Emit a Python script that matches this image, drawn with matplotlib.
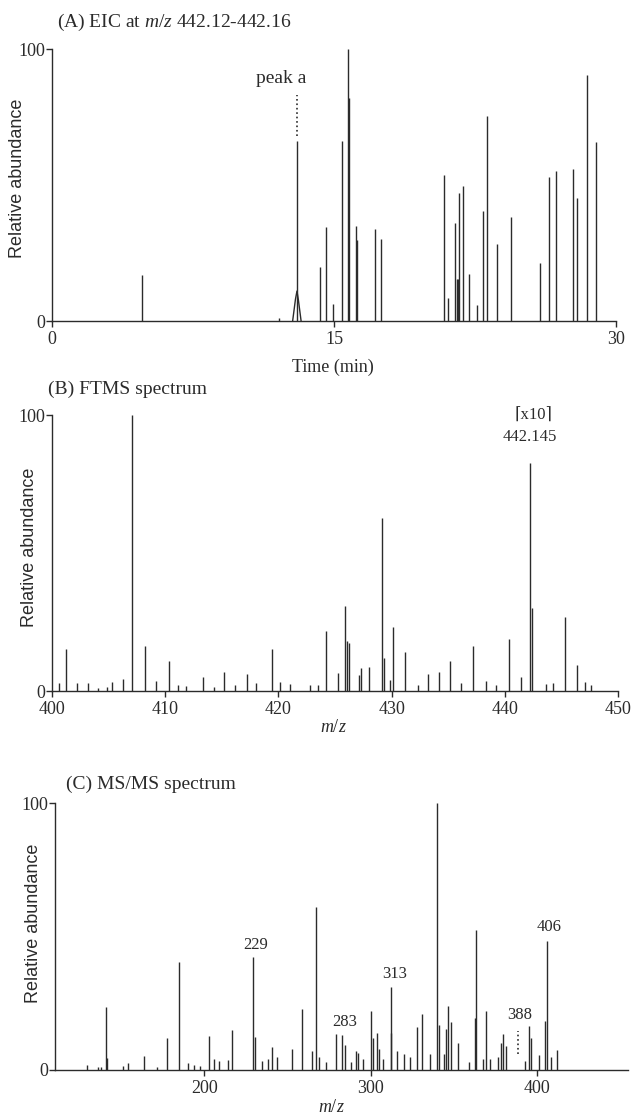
import matplotlib
matplotlib.use("Agg")
import matplotlib.pyplot as plt
import numpy as np

plt.rcParams['font.family'] = ['Liberation Serif', 'DejaVu Serif']
plt.rcParams['mathtext.fontset'] = 'custom'
plt.rcParams['mathtext.rm'] = 'Liberation Serif'
plt.rcParams['mathtext.it'] = 'Liberation Serif:italic'

INK = '#2b2b2b'

# (A) EIC peaks: retention time (min), relative abundance
eic_time = [4.81, 12.07, 13.03, 14.24, 14.56, 14.97, 15.40, 15.76, 15.82, 16.15, 16.21,
            17.18, 17.48, 20.85, 21.07, 21.45, 21.52, 21.58, 21.67, 21.84, 22.16, 22.61,
            22.94, 23.13, 23.67, 24.42, 25.94, 26.44, 26.83, 27.69, 27.94, 28.46, 28.96]
eic_abund = [16.8, 1.2, 66.3, 20.0, 34.7, 6.3, 66.3, 100.0, 82.0, 35.0, 29.6,
             34.0, 30.3, 53.6, 8.6, 36.0, 15.3, 15.3, 47.0, 49.7, 17.2, 5.8,
             40.6, 75.3, 28.3, 38.4, 21.3, 52.8, 55.2, 56.0, 45.3, 90.4, 65.8]
peak_a_base_t = [12.80, 12.95, 13.03, 13.10, 13.25]
peak_a_base_h = [0.0, 8.0, 11.0, 8.0, 0.0]

# (B) FTMS spectrum
ft_mz = [400.6, 401.25, 402.25, 403.2, 404.1, 404.9, 405.3, 406.25, 407.07, 408.2, 409.2,
         410.3, 411.1, 411.8, 413.3, 414.3, 415.2, 416.2, 417.2, 418.0, 419.4, 420.1,
         421.0, 422.8, 423.5, 424.2, 425.25, 425.9, 426.1, 426.25, 427.1, 427.3, 428.0,
         429.14, 429.3, 429.9, 430.14, 431.2, 432.3, 433.2, 434.2, 435.2, 436.1, 437.2,
         438.3, 439.2, 440.4, 441.4, 442.25, 442.4, 443.6, 444.3, 445.3, 446.4, 447.1, 447.6]
ft_abund = [2.8, 15.1, 2.8, 2.8, 1.0, 1.6, 3.4, 4.2, 100.0, 16.4, 3.7,
            11.0, 2.2, 1.8, 5.2, 1.6, 6.9, 2.2, 6.2, 3.0, 15.1, 3.4,
            2.5, 2.0, 2.2, 21.6, 6.6, 30.9, 18.1, 17.3, 5.8, 8.2, 8.8,
            62.6, 11.8, 4.0, 23.3, 14.1, 2.2, 6.2, 6.8, 10.7, 2.8, 16.3,
            3.7, 2.2, 19.0, 5.2, 82.5, 30.0, 2.5, 2.8, 26.7, 9.3, 3.4, 2.2]

# (C) MS/MS spectrum
ms_mz = [129.1, 135.9, 137.6, 140.7, 141.5, 151.0, 154.1, 163.8, 171.6, 177.5, 184.5,
         189.9, 193.5, 197.4, 202.5, 205.7, 208.8, 214.4, 216.8, 229.0, 230.5, 234.8,
         238.5, 240.9, 243.6, 252.6, 258.7, 264.5, 267.2, 269.0, 273.3, 279.1, 283.0,
         284.7, 288.4, 291.5, 292.7, 295.6, 300.5, 301.7, 304.1, 305.3, 307.5, 312.2,
         312.6, 315.8, 319.9, 323.6, 328.0, 330.9, 335.8, 339.9, 341.3, 344.2, 345.5,
         346.7, 348.7, 352.8, 359.4, 363.0, 363.4, 367.8, 369.8, 372.2, 376.6, 378.3,
         380.0, 381.5, 392.9, 395.3, 396.5, 401.3, 405.0, 406.0, 408.6, 412.3]
ms_abund = [1.9, 1.2, 1.2, 23.5, 4.4, 1.5, 2.5, 5.2, 1.0, 11.9, 40.4,
            2.7, 1.9, 1.5, 12.9, 4.0, 3.5, 3.8, 15.0, 42.4, 12.5, 3.5,
            4.0, 8.5, 5.0, 8.0, 23.0, 7.0, 60.9, 5.0, 3.0, 13.5, 13.0,
            9.5, 3.0, 7.0, 6.5, 4.0, 22.0, 12.0, 14.0, 8.0, 4.0, 14.0,
            31.0, 7.0, 6.0, 5.0, 16.0, 21.0, 6.0, 100.0, 17.0, 6.0, 15.5,
            24.0, 18.0, 10.0, 3.0, 19.5, 52.5, 4.0, 22.0, 4.0, 5.0, 10.0,
            13.5, 9.0, 3.5, 16.5, 12.0, 5.5, 18.5, 48.5, 5.0, 7.5]
ms_labels = ['229', '283', '313', '388', '406']
ms_label_mz = [229.0, 283.0, 313.0, 388.5, 406.0]
ms_label_h = [44.0, 15.0, 33.0, 17.5, 50.5]


fig = plt.figure(figsize=(6.33, 11.16), dpi=100)


def style_axes(ax, xlim, xticks, xticklabels):
    ax.set_xlim(*xlim)
    ax.set_ylim(0, 100)
    for s in ['top', 'right']:
        ax.spines[s].set_visible(False)
    for s in ['left', 'bottom']:
        ax.spines[s].set_color(INK)
        ax.spines[s].set_linewidth(1.0)
    ax.set_yticks([0, 100])
    ax.set_yticklabels(['0', '100'])
    ax.set_xticks(xticks)
    ax.set_xticklabels(xticklabels)
    ax.tick_params(direction='out', length=4, width=1.0, color=INK,
                   labelsize=13, labelcolor=INK, pad=3)
    ax.tick_params(axis='y', pad=1)


# ---- (A) EIC
axA = fig.add_axes([52 / 633, 1 - 321 / 1116, 564 / 633, 272 / 1116])
axA.vlines(eic_time, 0, eic_abund, color=INK, lw=1.0, clip_on=False)
axA.plot(peak_a_base_t, peak_a_base_h, color=INK, lw=1.0)
axA.plot([13.03, 13.03], [68, 83], color=INK, lw=1.2, ls=':')
axA.text(12.2, 86, 'peak a', ha='center', va='bottom', fontsize=14, color=INK)
style_axes(axA, (0, 30), [0, 15, 30], ['0', '15', '30'])
axA.xaxis.labelpad = 2
fig.text(57 / 633, 1 - 22 / 1116, r'(A) EIC at $m$/$z$ 442.12-442.16', ha='left', va='center',
         fontsize=14, color=INK)
fig.text(333 / 633, 1 - 367 / 1116, 'Time (min)', ha='center', va='center', fontsize=13, color=INK)
fig.text(18 / 633, 1 - 178 / 1116, 'Relative abundance', rotation=90, ha='center', va='center',
         fontsize=13, color=INK, family=['Liberation Sans', 'DejaVu Sans'])

# ---- (B) FTMS spectrum
axB = fig.add_axes([52 / 633, 1 - 691 / 1116, 566 / 633, 276 / 1116])
axB.vlines(ft_mz, 0, ft_abund, color=INK, lw=1.0, clip_on=False)
style_axes(axB, (400, 450), [400, 410, 420, 430, 440, 450],
           ['400', '410', '420', '430', '440', '450'])
axB.text(442.25, 89, '442.145', ha='center', va='bottom', fontsize=12, color=INK)
axB.text(442.5, 97, '\u2308x10\u2309', ha='center', va='bottom', fontsize=12, color=INK)
fig.text(48 / 633, 1 - 389 / 1116, '(B) FTMS spectrum', ha='left', va='center',
         fontsize=14, color=INK)
fig.text(333 / 633, 1 - 728 / 1116, r'$m$/$z$', ha='center', va='center', fontsize=13, color=INK)
fig.text(30 / 633, 1 - 547 / 1116, 'Relative abundance', rotation=90, ha='center', va='center',
         fontsize=13, color=INK, family=['Liberation Sans', 'DejaVu Sans'])

# ---- (C) MS/MS spectrum
axC = fig.add_axes([55 / 633, 1 - 1070 / 1116, 573 / 633, 267 / 1116])
axC.vlines(ms_mz, 0, ms_abund, color=INK, lw=1.0, clip_on=False)
style_axes(axC, (110, 455), [200, 300, 400], ['200', '300', '400'])
for lab, x, h in zip(ms_labels, ms_label_mz, ms_label_h):
    axC.text(x + 1.5, h, lab, ha='center', va='bottom', fontsize=12, color=INK)
axC.plot([388.5, 388.5], [6, 14.5], color=INK, lw=1.2, ls=':')
fig.text(66 / 633, 1 - 784 / 1116, '(C) MS/MS spectrum', ha='left', va='center',
         fontsize=14, color=INK)
fig.text(331 / 633, 1 - 1108 / 1116, r'$m$/$z$', ha='center', va='center', fontsize=13, color=INK)
fig.text(34 / 633, 1 - 923 / 1116, 'Relative abundance', rotation=90, ha='center', va='center',
         fontsize=13, color=INK, family=['Liberation Sans', 'DejaVu Sans'])

fig.savefig('out.png', dpi=100, facecolor='white')
